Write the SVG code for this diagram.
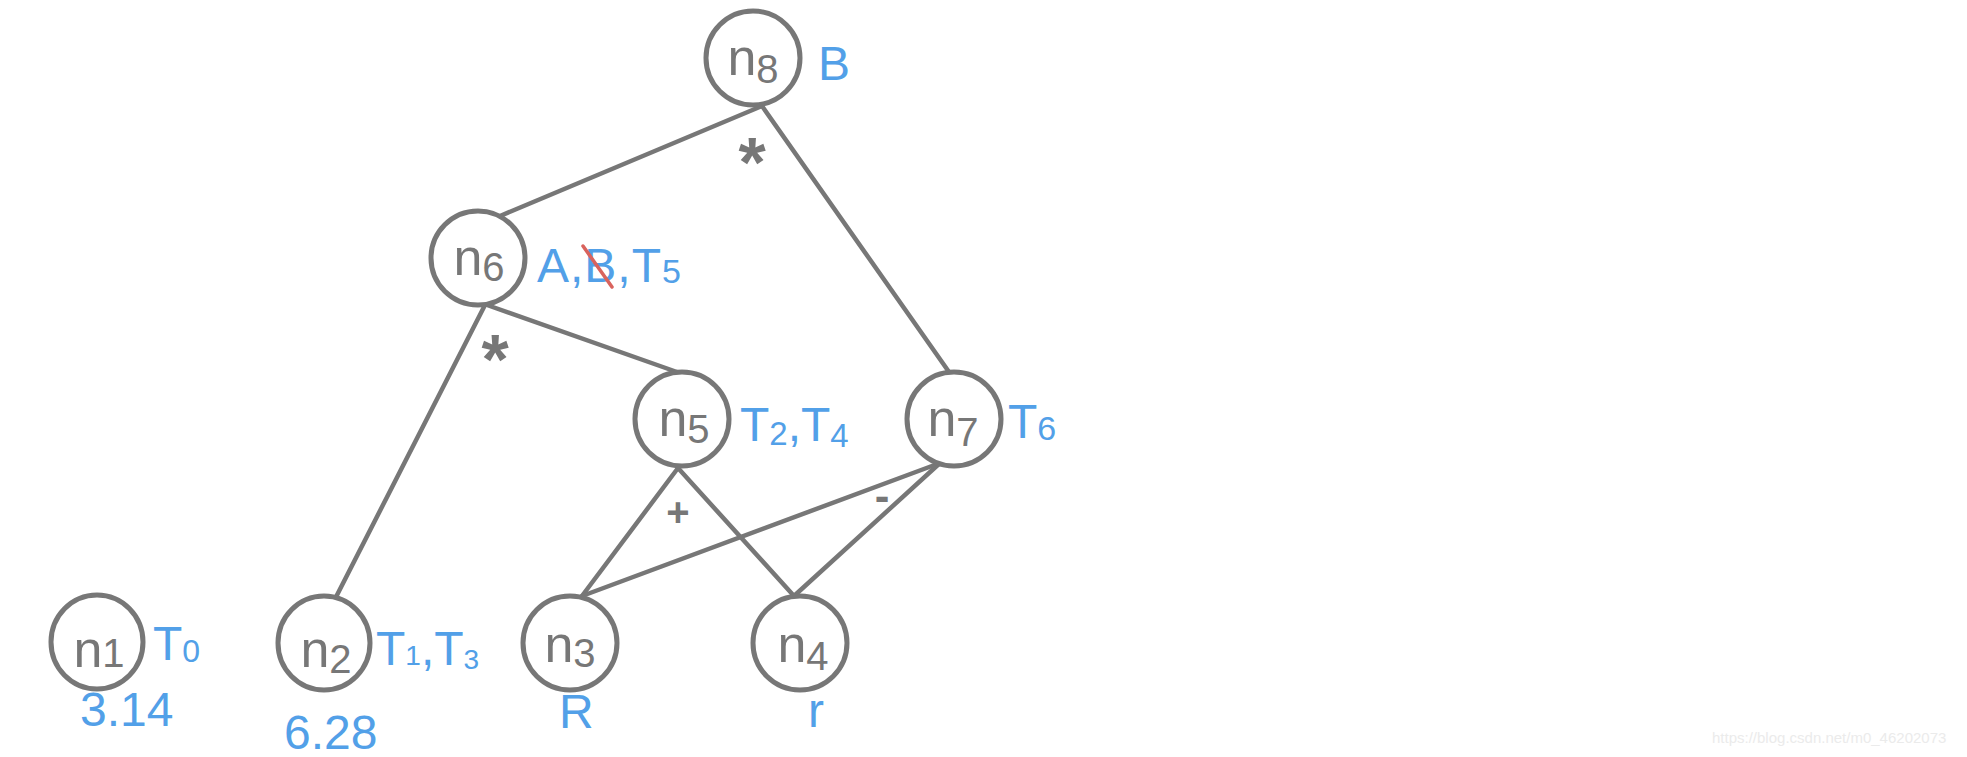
<svg xmlns="http://www.w3.org/2000/svg" width="1967" height="757" viewBox="0 0 1967 757">
<style>
.node{fill:#fff;stroke:#777;stroke-width:5}
.edge{stroke:#777;stroke-width:4.5;stroke-linecap:round;fill:none}
.nl{font-family:"Liberation Sans",Arial,sans-serif;font-size:52px;fill:#777;text-anchor:middle}
.sub{font-size:40px}
.bl{font-family:"Liberation Sans",Arial,sans-serif;font-size:48px;fill:#52a0e8}
.bs{font-size:34px}
.op{font-family:"Liberation Sans",Arial,sans-serif;fill:#777;text-anchor:middle;font-weight:bold}
.wm{font-family:"Liberation Sans",Arial,sans-serif;font-size:15px;fill:#ebebeb}
</style>
<rect width="1967" height="757" fill="#fff"/>
<g id="connectors">
<line class="edge" x1="762" y1="106" x2="500" y2="216"/>
<line class="edge" x1="762" y1="106" x2="949" y2="372"/>
<line class="edge" x1="487" y1="305" x2="677" y2="372"/>
<line class="edge" x1="485" y1="305" x2="336" y2="597"/>
<line class="edge" x1="678" y1="468" x2="582" y2="596"/>
<line class="edge" x1="678" y1="468" x2="794" y2="596"/>
<line class="edge" x1="940" y1="463" x2="582" y2="596"/>
<line class="edge" x1="940" y1="463" x2="794" y2="596"/>
<text class="op" x="752" y="187" font-size="70">*</text>
<text class="op" x="495" y="384" font-size="70">*</text>
<text class="op" x="678" y="526" font-size="40">+</text>
<text class="op" x="882" y="511" font-size="44">-</text>
</g>
<g id="n8">
<circle class="node" cx="753" cy="58" r="47"/>
<text class="nl" x="753" y="75">n<tspan class="sub" dy="8">8</tspan></text>
<text class="bl" x="818" y="80" font-size="54">B</text>
</g>
<g id="n6">
<circle class="node" cx="478" cy="258" r="47"/>
<text class="nl" x="479" y="275">n<tspan class="sub" dy="6">6</tspan></text>
<text class="bl" x="537" y="282" letter-spacing="1">A,B,T<tspan class="bs" dy="1">5</tspan></text>
<line x1="583" y1="246" x2="612" y2="287" stroke="#d9635d" stroke-width="3.5" stroke-linecap="round"/>
</g>
<g id="n5">
<circle class="node" cx="682" cy="419" r="47"/>
<text class="nl" x="684" y="436">n<tspan class="sub" dy="7">5</tspan></text>
<text class="bl" x="740" y="441" font-size="46">T<tspan font-size="33" dy="4">2</tspan><tspan dy="-4">,T</tspan><tspan font-size="33" dy="6">4</tspan></text>
</g>
<g id="n7">
<circle class="node" cx="954" cy="419" r="47"/>
<text class="nl" x="953" y="436">n<tspan class="sub" dy="10">7</tspan></text>
<text class="bl" x="1008" y="438">T<tspan class="bs" dy="2">6</tspan></text>
</g>
<g id="n1">
<ellipse class="node" cx="97" cy="642" rx="46" ry="47"/>
<text class="nl" x="99" y="667">n<tspan class="sub">1</tspan></text>
<text class="bl" x="153" y="660" font-size="46">T<tspan font-size="32" dy="2">0</tspan></text>
<text class="bl" x="80" y="726" font-size="38">3.14</text>
</g>
<g id="n2">
<ellipse class="node" cx="324" cy="643" rx="46" ry="47"/>
<text class="nl" x="326" y="667">n<tspan class="sub" dy="6">2</tspan></text>
<text class="bl" x="376" y="665" font-size="40">T<tspan font-size="28">1</tspan>,T<tspan font-size="28" dy="4">3</tspan></text>
<text class="bl" x="284" y="749" font-size="38">6.28</text>
</g>
<g id="n3">
<circle class="node" cx="570" cy="643" r="47"/>
<text class="nl" x="570" y="662">n<tspan class="sub" dy="5">3</tspan></text>
<text class="bl" x="559" y="728" font-size="38">R</text>
</g>
<g id="n4">
<circle class="node" cx="800" cy="643" r="47"/>
<text class="nl" x="803" y="662">n<tspan class="sub" dy="8">4</tspan></text>
<text class="bl" x="808" y="727" font-size="44">r</text>
</g>
<text class="wm" x="1712" y="743">https://blog.csdn.net/m0_46202073</text>
</svg>
